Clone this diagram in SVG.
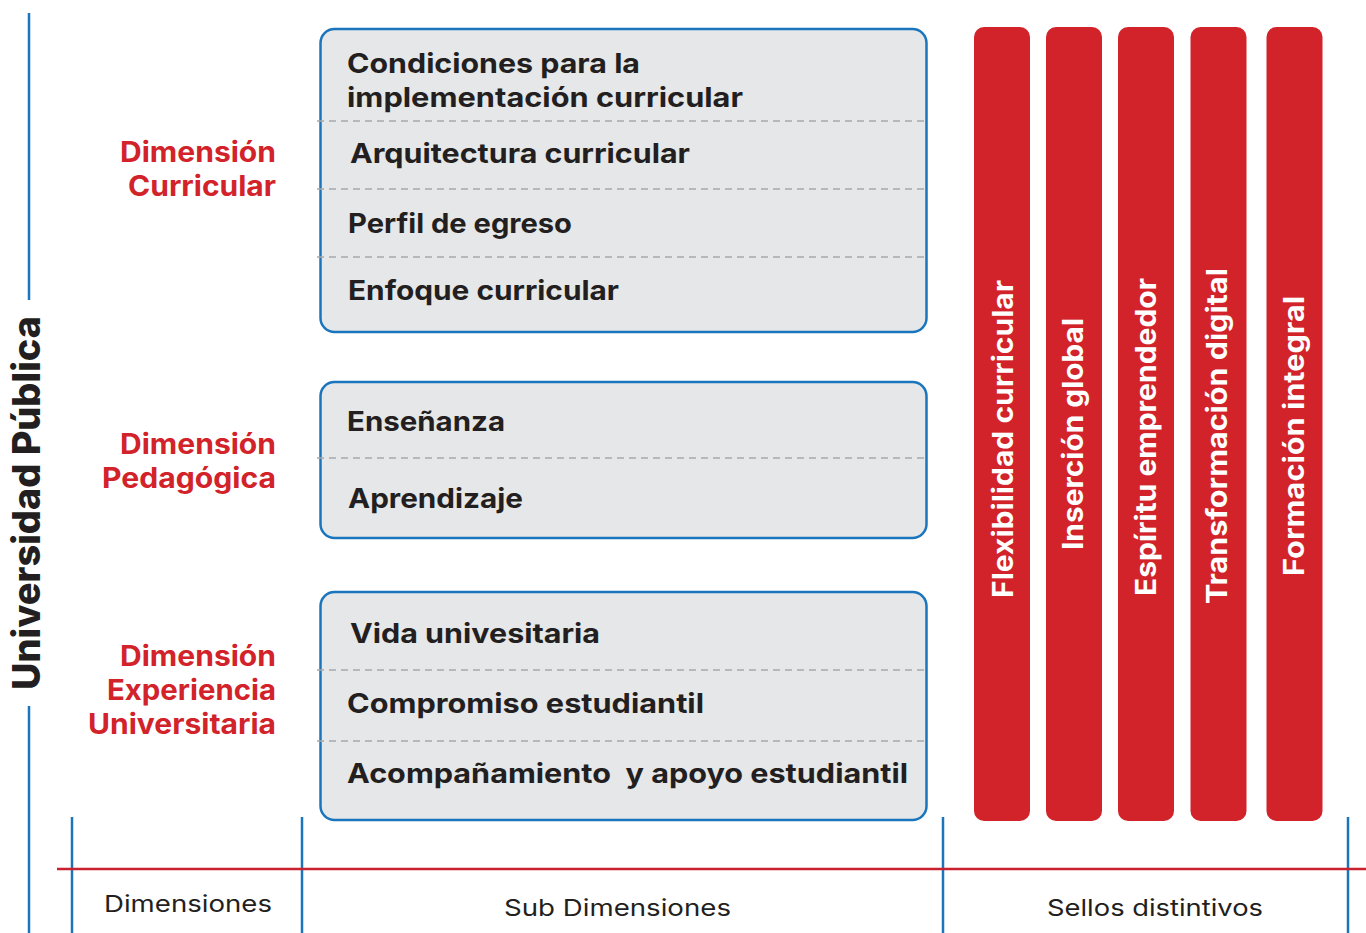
<svg xmlns="http://www.w3.org/2000/svg" width="1366" height="933" viewBox="0 0 1366 933">
<style>
.box{fill:#e6e7e9;stroke:#1b75bc;stroke-width:2.5}
.sep{stroke:#a7a9ac;stroke-width:1.3;stroke-dasharray:7 5;fill:none}
.sub{font-family:Inter,"Liberation Sans",sans-serif;font-weight:700;font-size:27px;fill:#231f20}
.dim{font-family:Inter,"Liberation Sans",sans-serif;font-weight:700;font-size:28px;fill:#d2232a;text-anchor:end}
.bar{fill:#d2232a}
.seal{font-family:Inter,"Liberation Sans",sans-serif;font-weight:700;font-size:28px;fill:#ffffff;text-anchor:middle}
.axis{stroke:#1b75bc;stroke-width:2.5}
.foot{font-family:Inter,"Liberation Sans",sans-serif;font-weight:400;font-size:23px;fill:#231f20;text-anchor:middle}
.title{font-family:Inter,"Liberation Sans",sans-serif;font-weight:800;font-size:38px;fill:#231f20;text-anchor:middle}
</style>
<rect width="1366" height="933" fill="#ffffff"/>

<g id="axes">
<line class="axis" x1="29" y1="13" x2="29" y2="300"/>
<line class="axis" x1="29" y1="706" x2="29" y2="933"/>
<line class="axis" x1="72" y1="817" x2="72" y2="933"/>
<line class="axis" x1="302" y1="817" x2="302" y2="933"/>
<line class="axis" x1="943" y1="817" x2="943" y2="933"/>
<line class="axis" x1="1348" y1="817" x2="1348" y2="933"/>
<line x1="57" y1="869" x2="1366" y2="869" stroke="#c8202f" stroke-width="2.5"/>
</g>

<g id="title">
<text class="title" transform="translate(40,503) rotate(-90)" textLength="374" lengthAdjust="spacingAndGlyphs">Universidad Pública</text>
</g>

<g id="dim-curricular">
<text class="dim" x="276" y="162" textLength="156" lengthAdjust="spacingAndGlyphs">Dimensión</text>
<text class="dim" x="276" y="196" textLength="148" lengthAdjust="spacingAndGlyphs">Curricular</text>
</g>
<g id="dim-pedagogica">
<text class="dim" x="276" y="454" textLength="156" lengthAdjust="spacingAndGlyphs">Dimensión</text>
<text class="dim" x="276" y="488" textLength="174" lengthAdjust="spacingAndGlyphs">Pedagógica</text>
</g>
<g id="dim-experiencia">
<text class="dim" x="276" y="666" textLength="156" lengthAdjust="spacingAndGlyphs">Dimensión</text>
<text class="dim" x="276" y="700" textLength="169" lengthAdjust="spacingAndGlyphs">Experiencia</text>
<text class="dim" x="276" y="734" textLength="188" lengthAdjust="spacingAndGlyphs">Universitaria</text>
</g>

<g id="box-curricular">
<rect class="box" x="320.5" y="29" width="606" height="303" rx="14"/>
<line class="sep" x1="317" y1="121" x2="925" y2="121"/>
<line class="sep" x1="317" y1="189" x2="925" y2="189"/>
<line class="sep" x1="317" y1="257" x2="925" y2="257"/>
<text class="sub" x="347" y="73" textLength="293" lengthAdjust="spacingAndGlyphs">Condiciones para la</text>
<text class="sub" x="347" y="107" textLength="396" lengthAdjust="spacingAndGlyphs">implementación curricular</text>
<text class="sub" x="350" y="163" textLength="340" lengthAdjust="spacingAndGlyphs">Arquitectura curricular</text>
<text class="sub" x="348" y="233" textLength="224" lengthAdjust="spacingAndGlyphs">Perfil de egreso</text>
<text class="sub" x="348" y="300" textLength="271" lengthAdjust="spacingAndGlyphs">Enfoque curricular</text>
</g>

<g id="box-pedagogica">
<rect class="box" x="320.5" y="382" width="606" height="156" rx="14"/>
<line class="sep" x1="317" y1="458" x2="925" y2="458"/>
<text class="sub" x="347" y="431" textLength="158" lengthAdjust="spacingAndGlyphs">Enseñanza</text>
<text class="sub" x="348" y="508" textLength="175" lengthAdjust="spacingAndGlyphs">Aprendizaje</text>
</g>

<g id="box-experiencia">
<rect class="box" x="320.5" y="592" width="606" height="228" rx="14"/>
<line class="sep" x1="317" y1="670" x2="925" y2="670"/>
<line class="sep" x1="317" y1="741" x2="925" y2="741"/>
<text class="sub" x="350" y="643" textLength="250" lengthAdjust="spacingAndGlyphs">Vida univesitaria</text>
<text class="sub" x="347" y="713" textLength="357" lengthAdjust="spacingAndGlyphs">Compromiso estudiantil</text>
<text class="sub" x="347" y="783" textLength="561" lengthAdjust="spacingAndGlyphs" xml:space="preserve">Acompañamiento  y apoyo estudiantil</text>
</g>

<g id="seal-flexibilidad">
<rect class="bar" x="974" y="27" width="56" height="794" rx="10"/>
<text class="seal" transform="translate(1013,439) rotate(-90)" textLength="318" lengthAdjust="spacingAndGlyphs">Flexibilidad curricular</text>
</g>
<g id="seal-insercion">
<rect class="bar" x="1046" y="27" width="56" height="794" rx="10"/>
<text class="seal" transform="translate(1083,434) rotate(-90)" textLength="232" lengthAdjust="spacingAndGlyphs">Inserción global</text>
</g>
<g id="seal-espiritu">
<rect class="bar" x="1118" y="27" width="56" height="794" rx="10"/>
<text class="seal" transform="translate(1156,437) rotate(-90)" textLength="318" lengthAdjust="spacingAndGlyphs">Espíritu emprendedor</text>
</g>
<g id="seal-transformacion">
<rect class="bar" x="1190.5" y="27" width="56" height="794" rx="10"/>
<text class="seal" transform="translate(1227,436) rotate(-90)" textLength="336" lengthAdjust="spacingAndGlyphs">Transformación digital</text>
</g>
<g id="seal-formacion">
<rect class="bar" x="1266.5" y="27" width="56" height="794" rx="10"/>
<text class="seal" transform="translate(1304,436) rotate(-90)" textLength="280" lengthAdjust="spacingAndGlyphs">Formación integral</text>
</g>

<g id="footer-labels">
<text class="foot" x="188" y="912" textLength="168" lengthAdjust="spacingAndGlyphs">Dimensiones</text>
<text class="foot" x="617.5" y="916" textLength="227" lengthAdjust="spacingAndGlyphs">Sub Dimensiones</text>
<text class="foot" x="1155" y="916" textLength="216" lengthAdjust="spacingAndGlyphs">Sellos distintivos</text>
</g>
</svg>
